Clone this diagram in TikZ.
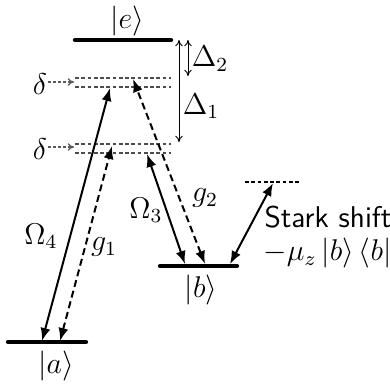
\documentclass[tikz,border=0pt]{standalone}
\usepackage{amsmath}
\usetikzlibrary{arrows.meta, positioning, calc}
\tikzset{
  level/.style={line width=1.7pt, line cap=round},
  virtual/.style={draw=black!70, dash pattern=on 1.5pt off 1pt, line width=0.45pt},
  laser/.style={line width=0.8pt, {Latex[length=5.2pt,width=4pt]}-{Latex[length=5.2pt,width=4pt]}},
  cavity/.style={laser, dash pattern=on 2.8pt off 1.6pt},
  detuning/.style={line width=0.4pt, {To[length=2.5pt,width=3pt]}-{To[length=2.5pt,width=3pt]}},
  offsetarrow/.style={draw=black!65, dash pattern=on 1pt off 1pt, line width=0.5pt, -{To[length=2.5pt,width=3pt]}}
}
\begin{document}
\begin{tikzpicture}[x=0.4pt, y=-0.4pt, every node/.style={font=\fontsize{12}{14}\selectfont}]
  \useasboundingbox (0,0) rectangle (390,385);
  % levels
  \coordinate (eL) at (75,40);  \coordinate (eR) at (171,40);
  \coordinate (aL) at (8,342);  \coordinate (aR) at (86,342);
  \coordinate (bL) at (160,266); \coordinate (bR) at (237,266);
  \draw[level] (eL) -- (eR);
  \draw[level] (aL) -- (aR);
  \draw[level] (bL) -- (bR);
  \node (e) at (127,21) {$|e\rangle$};
  \node (a) at (56,366) {$|a\rangle$};
  \node (b) at (201,290) {$|b\rangle$};
  % virtual levels
  \foreach \y/\n in {78/v1, 87/v2, 144/v3, 153/v4}{
    \coordinate (\n L) at (75,\y);
    \coordinate (\n R) at (171,\y);
    \draw[virtual] (\n L) -- (\n R);
  }
  \coordinate (sL) at (245,182); \coordinate (sR) at (300,182);
  \draw[virtual, draw=black] (sL) -- (sR);
  % detunings
  \node (d1) at (40,84) {$\delta$};
  \node (d2) at (40,149) {$\delta$};
  \coordinate (d1a) at (48,82); \coordinate (d1b) at (74,82);
  \coordinate (d2a) at (48,147); \coordinate (d2b) at (74,147);
  \draw[offsetarrow] (d1a) -- (d1b);
  \draw[offsetarrow] (d2a) -- (d2b);
  \coordinate (D1t) at (179,40); \coordinate (D1b) at (179,142);
  \coordinate (D2t) at (188,40); \coordinate (D2b) at (188,76);
  \draw[detuning] (D1t) -- (D1b);
  \draw[detuning] (D2t) -- (D2b);
  \node (D2) at (210,59) {$\Delta_2$};
  \node (D1) at (201,106) {$\Delta_1$};
  % transitions
  \coordinate (O4a) at (42,341); \coordinate (O4e) at (110,88);
  \coordinate (g1a) at (60,341); \coordinate (g1e) at (112,146);
  \coordinate (O3b) at (185,264); \coordinate (O3e) at (147,154);
  \coordinate (g2b) at (205,264); \coordinate (g2e) at (133,79);
  \coordinate (Sb) at (230,264); \coordinate (Se) at (273,183);
  \draw[laser] (O4a) -- (O4e);
  \draw[cavity] (g1a) -- (g1e);
  \draw[laser] (O3b) -- (O3e);
  \draw[cavity] (g2b) -- (g2e);
  \draw[laser] (Sb) -- (Se);
  \node (O4) at (41,236) {$\Omega_4$};
  \node (g1) at (104,247) {$g_1$};
  \node (O3) at (146,210) {$\Omega_3$};
  \node (g2) at (205,198) {$g_2$};
  \node[anchor=west, inner sep=0pt, font=\fontsize{12}{14}\selectfont\sffamily] (stark) at (264,217) {Stark shift};
  \node[anchor=west, inner sep=0pt] (mu) at (263,253) {$-\mu_z\,|b\rangle\,\langle b|$};
\end{tikzpicture}
\end{document}
